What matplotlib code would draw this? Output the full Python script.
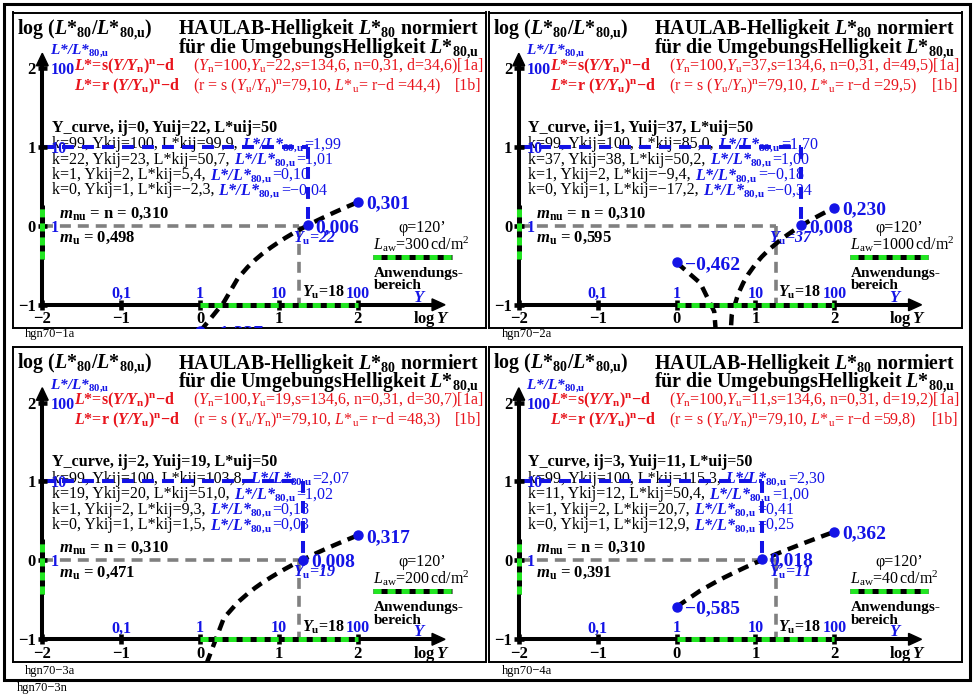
import numpy as np
import matplotlib
matplotlib.use('Agg')
import matplotlib.pyplot as plt
from matplotlib.patches import Polygon, Rectangle
from matplotlib.mathtext import MathTextParser

plt.rcParams.update({
    'font.family': 'Liberation Serif',
    'mathtext.fontset': 'custom',
    'mathtext.rm': 'Liberation Serif',
    'mathtext.it': 'Liberation Serif:italic',
    'mathtext.bf': 'Liberation Serif:bold',
    'lines.scale_dashes': False,
})
if 'mathtext.bfit' in plt.rcParams:
    plt.rcParams['mathtext.bfit'] = 'Liberation Serif:italic:bold'
try:
    MathTextParser('path').parse(r'$\mathbfit{L}$')
    BFIT = r'\mathbfit'
except Exception:
    BFIT = r'\mathit'


def M(s):
    """Expand the \\bi{..} shorthand to bold-italic mathtext."""
    return s.replace(r'\bi{', BFIT + '{')


# ---------------------------------------------------------------- data
panel_tags = ['hgn70−1a', 'hgn70−2a', 'hgn70−3a', 'hgn70−4a']
ij_index = [0, 1, 2, 3]
Yu_vals = [22, 37, 19, 11]
d_vals = ['34,6', '49,5', '30,7', '19,2']
Lu_vals = ['44,4', '29,5', '48,3', '59,8']
mu_vals = ['0,498', '0,595', '0,471', '0,391']
Law_vals = [300, 1000, 200, 40]
Luij = 50
Y_ref = 18

k_rows = [[99, 22, 1, 0], [99, 37, 1, 0], [99, 19, 1, 0], [99, 11, 1, 0]]
Ykij_rows = [[100, 23, 2, 1], [100, 38, 2, 1], [100, 20, 2, 1], [100, 12, 2, 1]]
Lkij_rows = [['99,9', '50,7', '5,4', '−2,3'],
             ['85,0', '50,2', '−9,4', '−17,2'],
             ['103,8', '51,0', '9,3', '1,5'],
             ['115,3', '50,4', '20,7', '12,9']]
ratio_rows = [['1,99', '1,01', '0,10', '−0,04'],
              ['1,70', '1,00', '−0,18', '−0,34'],
              ['2,07', '1,02', '0,18', '0,03'],
              ['2,30', '1,00', '0,41', '0,25']]

top_vals = [0.301, 0.230, 0.317, 0.362]
mid_vals = [0.006, 0.008, 0.008, 0.018]
low_vals = [-1.337, -0.462, -1.497, -0.585]

# lightness L* along the Y scale (Y = k + 1)
Y_curve = [1, 2, 3, 4, 5, 6, 7, 8, 10, 12, 15, 20, 23, 25, 30, 38, 40,
           50, 60, 70, 80, 90, 100]
L_curve_1 = [-2.3, 5.4, 10.8, 15.0, 18.6, 21.7, 24.4, 26.9, 31.3, 35.2, 40.2,
             47.1, 50.7, 53.0, 58.1, 65.1, 66.7, 74.0, 80.3, 85.9, 91.0, 95.7, 99.9]
L_curve_2 = [-17.2, -9.4, -4.1, 0.1, 3.7, 6.8, 9.5, 12.0, 16.4, 20.3, 25.3,
             32.2, 35.8, 38.1, 43.2, 50.2, 51.8, 59.1, 65.4, 71.0, 76.1, 80.8, 85.0]
L_curve_3 = [1.5, 9.3, 14.7, 18.9, 22.5, 25.6, 28.3, 30.8, 35.2, 39.1, 44.1,
             51.0, 54.6, 56.9, 62.0, 69.0, 70.6, 77.9, 84.2, 89.8, 94.9, 99.6, 103.8]
L_curve_4 = [12.9, 20.7, 26.0, 30.3, 33.8, 36.9, 39.7, 42.2, 46.6, 50.4, 55.4,
             62.4, 66.0, 68.2, 73.3, 80.4, 82.0, 89.2, 95.5, 101.2, 106.3, 110.9, 115.3]
L_curves = [L_curve_1, L_curve_2, L_curve_3, L_curve_4]

x_ticks = [-2, -1, 0, 1, 2]
x_tick_labels = ['−2', '−1', '0', '1', '2']
y_ticks = [-1, 0, 1, 2]
y_tick_labels = ['−1', '0', '1', '2']
Y_lin_pos = [-1, 0, 1, 2]
Y_lin_labels = ['0,1', '1', '10', '100']
ratio_pos = [0, 1, 2]
ratio_labels = ['1', '10', '100']

# ---------------------------------------------------------------- layout
W, H = 975, 694
FW, FH = 473, 315
X0, Y0, S = 187.6, 213.4, 78.9
origins = [(12.5, 12.5), (489, 12.5), (12.5, 347), (489, 347)]
BLUE = '#1414e6'
RED = '#e8141c'
GREEN = '#22e622'
GRAY = '#808080'

fig = plt.figure(figsize=(W / 100, H / 100), dpi=100)
renderer = fig.canvas.get_renderer()


def P(rx, ry):
    return ((rx - X0) / S, (Y0 - ry) / S)


def chain(ax, rx, ry, parts):
    x, y = P(rx, ry)
    inv = ax.transData.inverted()
    for s, gap, kw in parts:
        x += gap / S
        t = ax.text(x, y, s, ha='left', va='baseline', zorder=3, **kw)
        bb = t.get_window_extent(renderer)
        x = inv.transform((bb.x1, bb.y0))[0]


def fmt(v):
    return f'{v:.3f}'.replace('.', ',').replace('-', '−')


for i in range(4):
    ox, oy = origins[i]
    ax = fig.add_axes([ox / W, 1 - (oy + FH) / H, FW / W, FH / H])
    ax.set_xlim(-X0 / S, (FW - X0) / S)
    ax.set_ylim((Y0 - FH) / S, Y0 / S)
    ax.set_xticks([])
    ax.set_yticks([])
    for sp in ax.spines.values():
        sp.set_linewidth(1.4)

    Yu = Yu_vals[i]
    xg = np.log10(Y_ref)
    xm = np.log10(Ykij_rows[i][1])

    # headings
    ax.text(*P(4.2, 21.8), M(r'log ($\bi{L}$*$_{\mathbf{80}}$/$\bi{L}$*$_{\mathbf{80{,}u}}$)'),
            fontsize=14.4, fontweight='bold', va='baseline')
    ax.text(*P(165.5, 21.8), M(r'HAULAB-Helligkeit $\bi{L}$*$_{\mathbf{80}}$ normiert'),
            fontsize=14.4, fontweight='bold', va='baseline')
    ax.text(*P(165.5, 40.8), M(r'für die UmgebungsHelligkeit $\bi{L}$*$_{\mathbf{80{,}u}}$'),
            fontsize=14.4, fontweight='bold', va='baseline')
    ax.text(*P(37.5, 41.5), r'L*/L*$_{\mathbf{80{,}u}}$', fontsize=11, fontweight='bold',
            fontstyle='italic', color=BLUE, va='baseline')

    # formulas
    ax.text(*P(61.5, 57.5), M(r'$\bi{L}$*=s($\bi{Y/Y}_{\mathbf{n}}$)$^{\mathbf{n}}$−d'),
            fontsize=11.5, fontweight='bold', color=RED, va='baseline')
    ax.text(*P(180.2, 57.5),
            r'($\mathit{Y}_{\mathrm{n}}$=100,$\mathit{Y}_{\mathrm{u}}$=' + str(Yu)
            + ',s=134,6, n=0,31, d=' + d_vals[i] + ')[1a]',
            fontsize=11.5, color=RED, va='baseline')
    ax.text(*P(61.5, 77.5), M(r'$\bi{L}$*=r ($\bi{Y/Y}_{\mathbf{u}}$)$^{\mathbf{n}}$−d'),
            fontsize=11.5, fontweight='bold', color=RED, va='baseline')
    ax.text(*P(180.2, 77.5),
            r'(r = s ($\mathit{Y}_{\mathrm{u}}/\mathit{Y}_{\mathrm{n}}$)$^{\mathrm{n}}$=79,10, '
            r'$\mathit{L}$*$_{\mathrm{u}}$= r−d =' + Lu_vals[i] + ')',
            fontsize=11.5, color=RED, va='baseline')
    ax.text(*P(469.2, 77.5), '[1b]', fontsize=11.5, color=RED, va='baseline', ha='right')

    # curve table
    ax.text(*P(39.5, 119), f'Y_curve, ij={ij_index[i]}, Yuij={Yu}, L*uij={Luij}',
            fontsize=11.5, fontweight='bold', va='baseline')
    for j in range(4):
        chain(ax, 39.5, 135.8 + 15.4 * j, [
            (f'k={k_rows[i][j]}, Ykij={Ykij_rows[i][j]}, L*kij={Lkij_rows[i][j]},', 0,
             dict(fontsize=11.5)),
            (r'L*/L*$_{\mathbf{80{,}u}}$', 4,
             dict(fontsize=11.5, fontweight='bold', fontstyle='italic', color=BLUE)),
            ('=' + ratio_rows[i][j], 0.5, dict(fontsize=11.5, color=BLUE)),
        ])
    ax.text(*P(46.8, 204.8), M(r'$\bi{m}_{\mathbf{nu}}$ = n = 0,310'),
            fontsize=12, fontweight='bold', va='baseline')
    ax.text(*P(46.8, 229.2), M(r'$\bi{m}_{\mathbf{u}}$ = ') + mu_vals[i],
            fontsize=12, fontweight='bold', va='baseline')

    # reference lines
    ax.plot([-2, xg], [0, 0], color=GRAY, lw=2.6, dashes=(7.9, 5), zorder=2)
    ax.plot([xg, xg], [0, -1], color=GRAY, lw=2.6, dashes=(7.9, 5), zorder=2)
    ax.plot([-2, xm], [1, 1], color=BLUE, lw=2.9, dashes=(8.6, 5.8), zorder=4)
    ax.plot([xm, xm], [1, mid_vals[i]], color=BLUE, lw=2.9, dashes=(8.6, 5.8), zorder=4)

    # lightness curve
    Yc = np.array(Y_curve, dtype=float)
    Lc = np.array(L_curves[i])
    ax.plot(np.log10(Yc), np.log10(np.abs(Lc) / Luij), color='k', lw=3.2,
            dashes=(7.9, 5), zorder=5)

    # axes with arrows and ticks
    ax.plot([-2, -2], [-1, 2.06], color='k', lw=2.9, solid_capstyle='butt', zorder=6)
    ax.add_patch(Polygon([(-2.075, 2.03), (-1.925, 2.03), (-2, 2.188)], closed=True,
                         color='k', zorder=6))
    ax.plot([-2, 2.97], [-1, -1], color='k', lw=2.9, solid_capstyle='butt', zorder=6)
    ax.add_patch(Polygon([(2.94, -1.075), (2.94, -0.925), (3.104, -1)], closed=True,
                         color='k', zorder=6))
    for xt in x_ticks:
        ax.plot([xt, xt], [-1.065, -0.935], color='k', lw=3.3, solid_capstyle='butt', zorder=6)
    for yt in y_ticks:
        ax.plot([-2.06, -1.94], [yt, yt], color='k', lw=3.3, solid_capstyle='butt', zorder=6)

    # application range
    for xs, ys in [([0, 2], [-1, -1]), ([-2, -2], [-0.42, 0.27]),
                   ([P(360.5, 244)[0], P(439.5, 244)[0]], [P(0, 244)[1]] * 2)]:
        ax.plot(xs, ys, color='k', lw=3.6, solid_capstyle='butt', zorder=7)
        ax.plot(xs, ys, color=GREEN, lw=3.6, dashes=(5.8, 4.3), zorder=7)

    # tick labels
    for xt, lab in zip(x_ticks, x_tick_labels):
        ax.text(xt, -1.2345, lab, ha='center', va='baseline', fontsize=12, fontweight='bold')
    for yt, lab in zip(y_ticks, y_tick_labels):
        ax.text(-2.08, yt, lab, ha='right', va='center_baseline', fontsize=12, fontweight='bold')
    for xt, lab in zip(Y_lin_pos, Y_lin_labels):
        ax.text(xt, -0.913, lab, ha='center', va='baseline', fontsize=11.5,
                fontweight='bold', color=BLUE)
    for yt, lab in zip(ratio_pos, ratio_labels):
        ax.text(-1.90, yt, lab, ha='left', va='center_baseline', fontsize=11.5,
                fontweight='bold', color=BLUE, zorder=3)
    ax.text(*P(400.5, 289), 'Y', fontsize=12, fontweight='bold', fontstyle='italic',
            color=BLUE, va='baseline')
    ax.text(*P(400.5, 310.8), M(r'log$\,\bi{Y}$'), fontsize=12, fontweight='bold',
            va='baseline')
    ax.text(*P(289, 284.2), M(r'$\bi{Y}_{\mathbf{u}}$=') + str(Y_ref), fontsize=11.5,
            fontweight='bold', va='baseline')
    ax.text(*P(280.5, 229.8), r'Y$_{\mathbf{u}}$=' + str(Yu), fontsize=11.5,
            fontweight='bold', fontstyle='italic', color=BLUE, va='baseline', zorder=3)

    # marked points
    pts = [(2.0, top_vals[i]), (xm, mid_vals[i]), (0.0, low_vals[i])]
    for px, py in pts:
        ax.plot([px], [py], 'o', color=BLUE, ms=6.5, zorder=8)
        ax.annotate(fmt(py), (px, py), xytext=(8, 0), textcoords='offset pixels',
                    ha='left', va='center_baseline', fontsize=14, fontweight='bold',
                    color=BLUE, zorder=8, annotation_clip=False, clip_on=True)

    # legend block
    ax.text(*P(386, 219), 'φ=120’', fontsize=11.5, va='baseline')
    ax.text(*P(360.5, 237), r'$\mathit{L}_{\mathrm{aw}}$=' + str(Law_vals[i])
            + r'$\,$cd/m$^{2}$', fontsize=11.5, va='baseline')
    ax.text(*P(361.5, 264), 'Anwendungs-', fontsize=11, fontweight='bold', va='baseline')
    ax.text(*P(361.5, 276.5), 'bereich', fontsize=11, fontweight='bold', va='baseline')

# outer frame and sheet labels
fig.add_artist(Rectangle((4 / W, 1 - 680 / H), 966 / W, 676 / H, transform=fig.transFigure,
                         fill=False, lw=2.2, ec='k'))
for tag, (x, y) in zip(panel_tags, [(25, 337.5), (502, 337.5), (25, 674), (502, 674)]):
    fig.text(x / W, 1 - y / H, tag, fontsize=9, va='baseline')
fig.text(16.7 / W, 1 - 691 / H, 'hgn70−3n', fontsize=9, va='baseline')

fig.savefig('out.png', dpi=100)
